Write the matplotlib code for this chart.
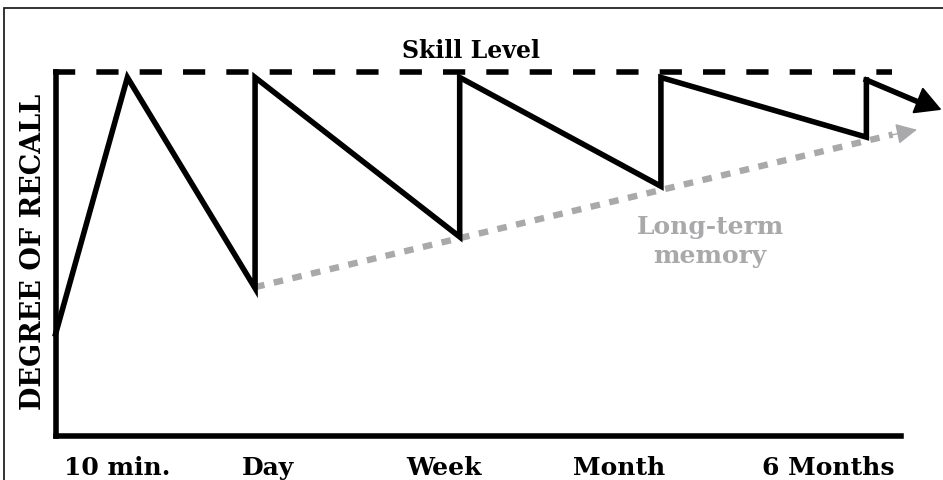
import matplotlib
matplotlib.use("Agg")
import matplotlib.pyplot as plt
from matplotlib.patches import Rectangle

# Recall curve (x: time axis 0-100, y: recall 0-100, skill level = 100)
recall_x = [0, 8.5, 23.6, 23.6, 47.8, 47.8, 71.6, 71.6, 95.9, 95.9]
recall_y = [28, 98.5, 40.6, 98.5, 54.7, 98.5, 68.6, 98.5, 82.1, 97.8]
arrow_tip = (104.8, 89.6)

# Long-term memory trend
ltm_x = [23.6, 99.0]
ltm_y = [40.9, 82.8]
ltm_tip = (102.2, 84.3)

skill_level = 100
skill_x = [-0.3, 98.9]

tick_pos = [7.3, 25.1, 45.9, 66.6, 91.4]
tick_labels = ["10 min.", "Day", "Week", "Month", "6 Months"]

font = "DejaVu Serif"
lw = 4.0

fig = plt.figure(figsize=(9.43, 4.81), dpi=100)
ax = fig.add_axes([0.0589, 0.0915, 0.8966, 0.7568])
ax.set_xlim(0, 100)
ax.set_ylim(0, 100)

# outer frame
fig.patches.append(Rectangle((4 / 943, -0.1), 1.1, (481 - 9) / 481 + 0.1,
                             transform=fig.transFigure, fill=False,
                             edgecolor="#222222", lw=1.3))

for s in ["top", "right"]:
    ax.spines[s].set_visible(False)
for s in ["left", "bottom"]:
    ax.spines[s].set_linewidth(lw)
    ax.spines[s].set_color("black")

ax.plot(skill_x, [skill_level] * 2, color="black", lw=lw,
        linestyle=(0, (4.0, 3.8)), dash_capstyle="butt", clip_on=False)

ax.plot(ltm_x, ltm_y, color="#a9a9ab", lw=4.6, linestyle=(0, (1.5, 1.5)),
        dash_capstyle="butt", clip_on=False)
ax.annotate("", xy=ltm_tip, xytext=(ltm_x[-1] - 0.5, ltm_y[-1] - 0.3),
            arrowprops=dict(arrowstyle="-|>", color="#a9a9ab", lw=1,
                            mutation_scale=32), annotation_clip=False)

ax.plot(recall_x, recall_y, color="black", lw=lw, solid_joinstyle="miter",
        clip_on=False)
ax.annotate("", xy=arrow_tip, xytext=(recall_x[-1], recall_y[-1]),
            arrowprops=dict(arrowstyle="-|>,head_length=0.55,head_width=0.3",
                            color="black", lw=1.5, mutation_scale=30,
                            shrinkA=0, shrinkB=0),
            annotation_clip=False)
# thick shaft for the last segment (head drawn above)
ax.plot([recall_x[-1], arrow_tip[0] - 2.2], [recall_y[-1], arrow_tip[1] + 1.6],
        color="black", lw=lw, clip_on=False)

ax.set_xticks(tick_pos)
ax.set_xticklabels(tick_labels, fontfamily=font, fontweight="bold", fontsize=18)
ax.tick_params(axis="x", length=0, pad=14)
ax.set_yticks([])

ax.text(0.499, 0.893, "Skill Level", transform=fig.transFigure, ha="center",
        va="center", fontfamily=font, fontweight="bold", fontsize=17)
ax.text(0.753, 0.498, "Long-term\nmemory", transform=fig.transFigure,
        ha="center", va="center", fontfamily=font, fontweight="bold",
        fontsize=18, color="#a9a9ab", linespacing=1.25)
ax.text(0.035, 0.476, "DEGREE OF RECALL", transform=fig.transFigure,
        ha="center", va="center", rotation=90, fontfamily=font,
        fontweight="bold", fontsize=19.5)

fig.savefig("out.png", dpi=100)
